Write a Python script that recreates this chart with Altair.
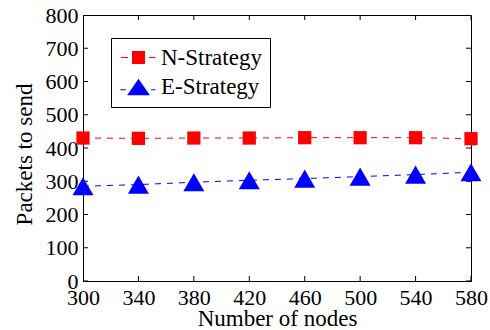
import altair as alt
import pandas as pd

# ---- data ----
nodes = [300, 340, 380, 420, 460, 500, 540, 580]
n_strategy = [430, 429, 430, 430, 431, 431, 431, 428]
e_strategy = [285, 290, 297, 303, 308, 314, 320, 327]
series_names = ["N-Strategy", "E-Strategy"]
series_colors = ["#ff0000", "#0000ff"]
x_ticks = [300, 340, 380, 420, 460, 500, 540, 580]
y_ticks = [0, 100, 200, 300, 400, 500, 600, 700, 800]

FONT = "Liberation Serif"

df = pd.DataFrame({
    "nodes": nodes * 2,
    "value": n_strategy + e_strategy,
    "series": [series_names[0]] * len(nodes) + [series_names[1]] * len(nodes),
})

x_scale = alt.Scale(domain=[x_ticks[0], x_ticks[-1]], nice=False, zero=False)
y_scale = alt.Scale(domain=[y_ticks[0], y_ticks[-1]], nice=False, zero=False)
color_scale = alt.Scale(domain=series_names, range=series_colors)

# legend symbols: marker with dashed-line stubs on both sides
sq_path = ("M-1,-1H1V1H-1Z "
           "M-2.7,-0.08H-1.6V0.08H-2.7Z M1.6,-0.08H2.6V0.08H1.6Z")
tri_path = ("M0,-1.2L1.75,1.35L-1.75,1.35Z "
            "M-2.8,0.42H-1.95V0.58H-2.8Z M1.95,0.42H2.6V0.58H1.95Z")
shape_scale = alt.Scale(domain=series_names, range=[sq_path, tri_path])

axis_common = dict(labelOverlap=False, labelFlush=False, labelBound=False)
x_axis = alt.Axis(values=x_ticks, title="Number of nodes", **axis_common)
y_axis = alt.Axis(values=y_ticks, title="Packets to send", **axis_common)
x_enc = alt.X("nodes:Q", scale=x_scale, axis=x_axis)
y_enc = alt.Y("value:Q", scale=y_scale, axis=y_axis)

base = alt.Chart(df)


def series_layer(name, col, shape, size):
    sub = base.transform_filter(alt.datum.series == name)
    ln = sub.mark_line(strokeDash=[6, 6], strokeWidth=1, color=col).encode(x=x_enc, y=y_enc)
    pt = sub.mark_point(shape=shape, filled=True, size=size, opacity=1,
                        color=col).encode(x=x_enc, y=y_enc)
    return ln, pt


n_line, n_pts = series_layer(series_names[0], series_colors[0], "square", 175)
e_line, e_pts = series_layer(series_names[1], series_colors[1], "triangle-up", 440)

legend = alt.Legend(
    title=None, orient="none", legendX=28, legendY=23,
    fillColor="white", strokeColor="black", padding=8,
    symbolSize=169, symbolStrokeWidth=0, symbolOffset=8, symbolOpacity=1,
    labelOffset=11, labelFont=FONT, labelFontSize=23, labelColor="black",
    labelLimit=400, rowPadding=5, cornerRadius=0,
)

# invisible marks that only carry the legend
legend_layer = base.mark_point(filled=True, opacity=0).encode(
    x=x_enc, y=y_enc,
    color=alt.Color("series:N", scale=color_scale, legend=legend),
    shape=alt.Shape("series:N", scale=shape_scale, legend=legend),
)

# inward tick marks on all four sides
xt = pd.DataFrame({"nodes": x_ticks})
yt = pd.DataFrame({"value": y_ticks})
tick_style = dict(size=10, thickness=1, color="black", clip=True, opacity=1)
bottom_ticks = alt.Chart(xt).mark_tick(orient="vertical", **tick_style).encode(
    x=x_enc, y=alt.YDatum(y_ticks[0], scale=y_scale, axis=y_axis))
top_ticks = alt.Chart(xt).mark_tick(orient="vertical", **tick_style).encode(
    x=x_enc, y=alt.YDatum(y_ticks[-1], scale=y_scale, axis=y_axis))
left_ticks = alt.Chart(yt).mark_tick(orient="horizontal", **tick_style).encode(
    y=y_enc, x=alt.XDatum(x_ticks[0], scale=x_scale, axis=x_axis))
right_ticks = alt.Chart(yt).mark_tick(orient="horizontal", **tick_style).encode(
    y=y_enc, x=alt.XDatum(x_ticks[-1], scale=x_scale, axis=x_axis))

chart = alt.layer(
    legend_layer, bottom_ticks, top_ticks, left_ticks, right_ticks,
    n_line, e_line, n_pts, e_pts,
).properties(
    width=388, height=266,
    autosize=alt.AutoSizeParams(type="none"),
    padding={"left": 83, "top": 15, "right": 19, "bottom": 49},
    background="white",
).configure_view(
    stroke="black", strokeWidth=1
).configure_axis(
    grid=False, ticks=False, domainColor="black", domainWidth=1,
    labelFont=FONT, labelFontSize=22, labelColor="black",
    titleFont=FONT, titleFontSize=23, titleFontWeight="normal", titleColor="black",
).configure_axisX(
    labelBaseline="alphabetic", labelPadding=23,
    titleBaseline="alphabetic", titleY=44,
).configure_axisY(
    labelPadding=5, titleBaseline="alphabetic", titleX=-52, titleY=139,
)

chart.save("out.html", embed_options={"renderer": "svg", "actions": False})
